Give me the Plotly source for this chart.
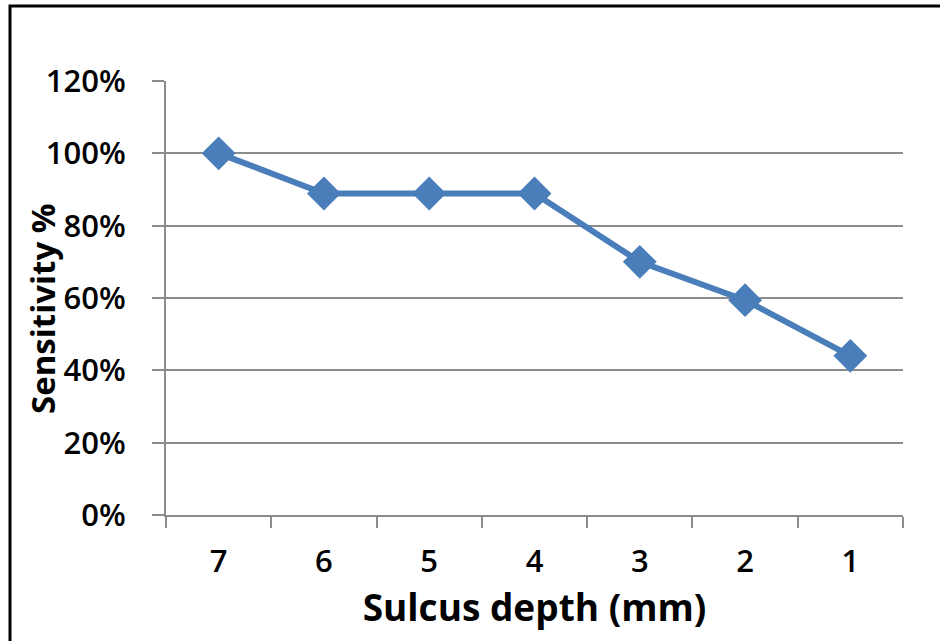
import plotly.graph_objects as go

categories = ["7", "6", "5", "4", "3", "2", "1"]
sensitivity = [1.00, 0.889, 0.889, 0.889, 0.70, 0.594, 0.44]
x_title = "Sulcus depth (mm)"
y_title = "Sensitivity %"

fig = go.Figure()
fig.add_trace(go.Scatter(
    x=categories, y=sensitivity, mode="lines+markers",
    line=dict(color="#4a7ebb", width=6),
    marker=dict(symbol="diamond", size=26, color="#4a7ebb"),
    showlegend=False,
))

W, H = 940, 641
L, R, T, B = 166, 37, 81, 126
pw, ph = W - L - R, H - T - B

def px_x(p):
    return (p - L) / pw

def px_y(p):
    return (H - B - p) / ph

fig.add_shape(type="rect", xref="paper", yref="paper",
              x0=px_x(10), x1=px_x(960), y0=px_y(660), y1=px_y(6),
              line=dict(color="black", width=3), fillcolor="rgba(0,0,0,0)", layer="above")

grid = "#8c8c8c"
FONT = "Open Sans"

fig.add_annotation(text=y_title, xref="paper", yref="paper",
                   x=px_x(42), y=px_y(309), xanchor="center", yanchor="middle",
                   textangle=-90, showarrow=False,
                   font=dict(size=33, family=FONT, weight="bold", color="black"))

fig.update_layout(
    width=W, height=H,
    margin=dict(l=L, r=R, t=T, b=B),
    paper_bgcolor="white", plot_bgcolor="white",
    font=dict(family=FONT, color="black"),
    xaxis=dict(
        type="category", tickson="boundaries", range=[-0.5, 6.5],
        showgrid=False, showline=True, linecolor=grid, linewidth=2,
        ticks="outside", ticklen=11, tickwidth=2, tickcolor=grid,
        ticklabelstandoff=18,
        tickfont=dict(size=31, family=FONT, weight=600),
        title=dict(text=x_title, font=dict(size=37, family=FONT, weight="bold"), standoff=2),
    ),
    yaxis=dict(
        range=[0, 1.2], dtick=0.2, tickformat=".0%",
        showgrid=True, gridcolor=grid, gridwidth=2,
        showline=True, linecolor=grid, linewidth=2, zeroline=False,
        ticks="outside", ticklen=12, tickwidth=2, tickcolor=grid,
        ticklabelstandoff=20,
        tickfont=dict(size=31, family=FONT, weight=600),
    ),
)

fig.write_html("out.html")
